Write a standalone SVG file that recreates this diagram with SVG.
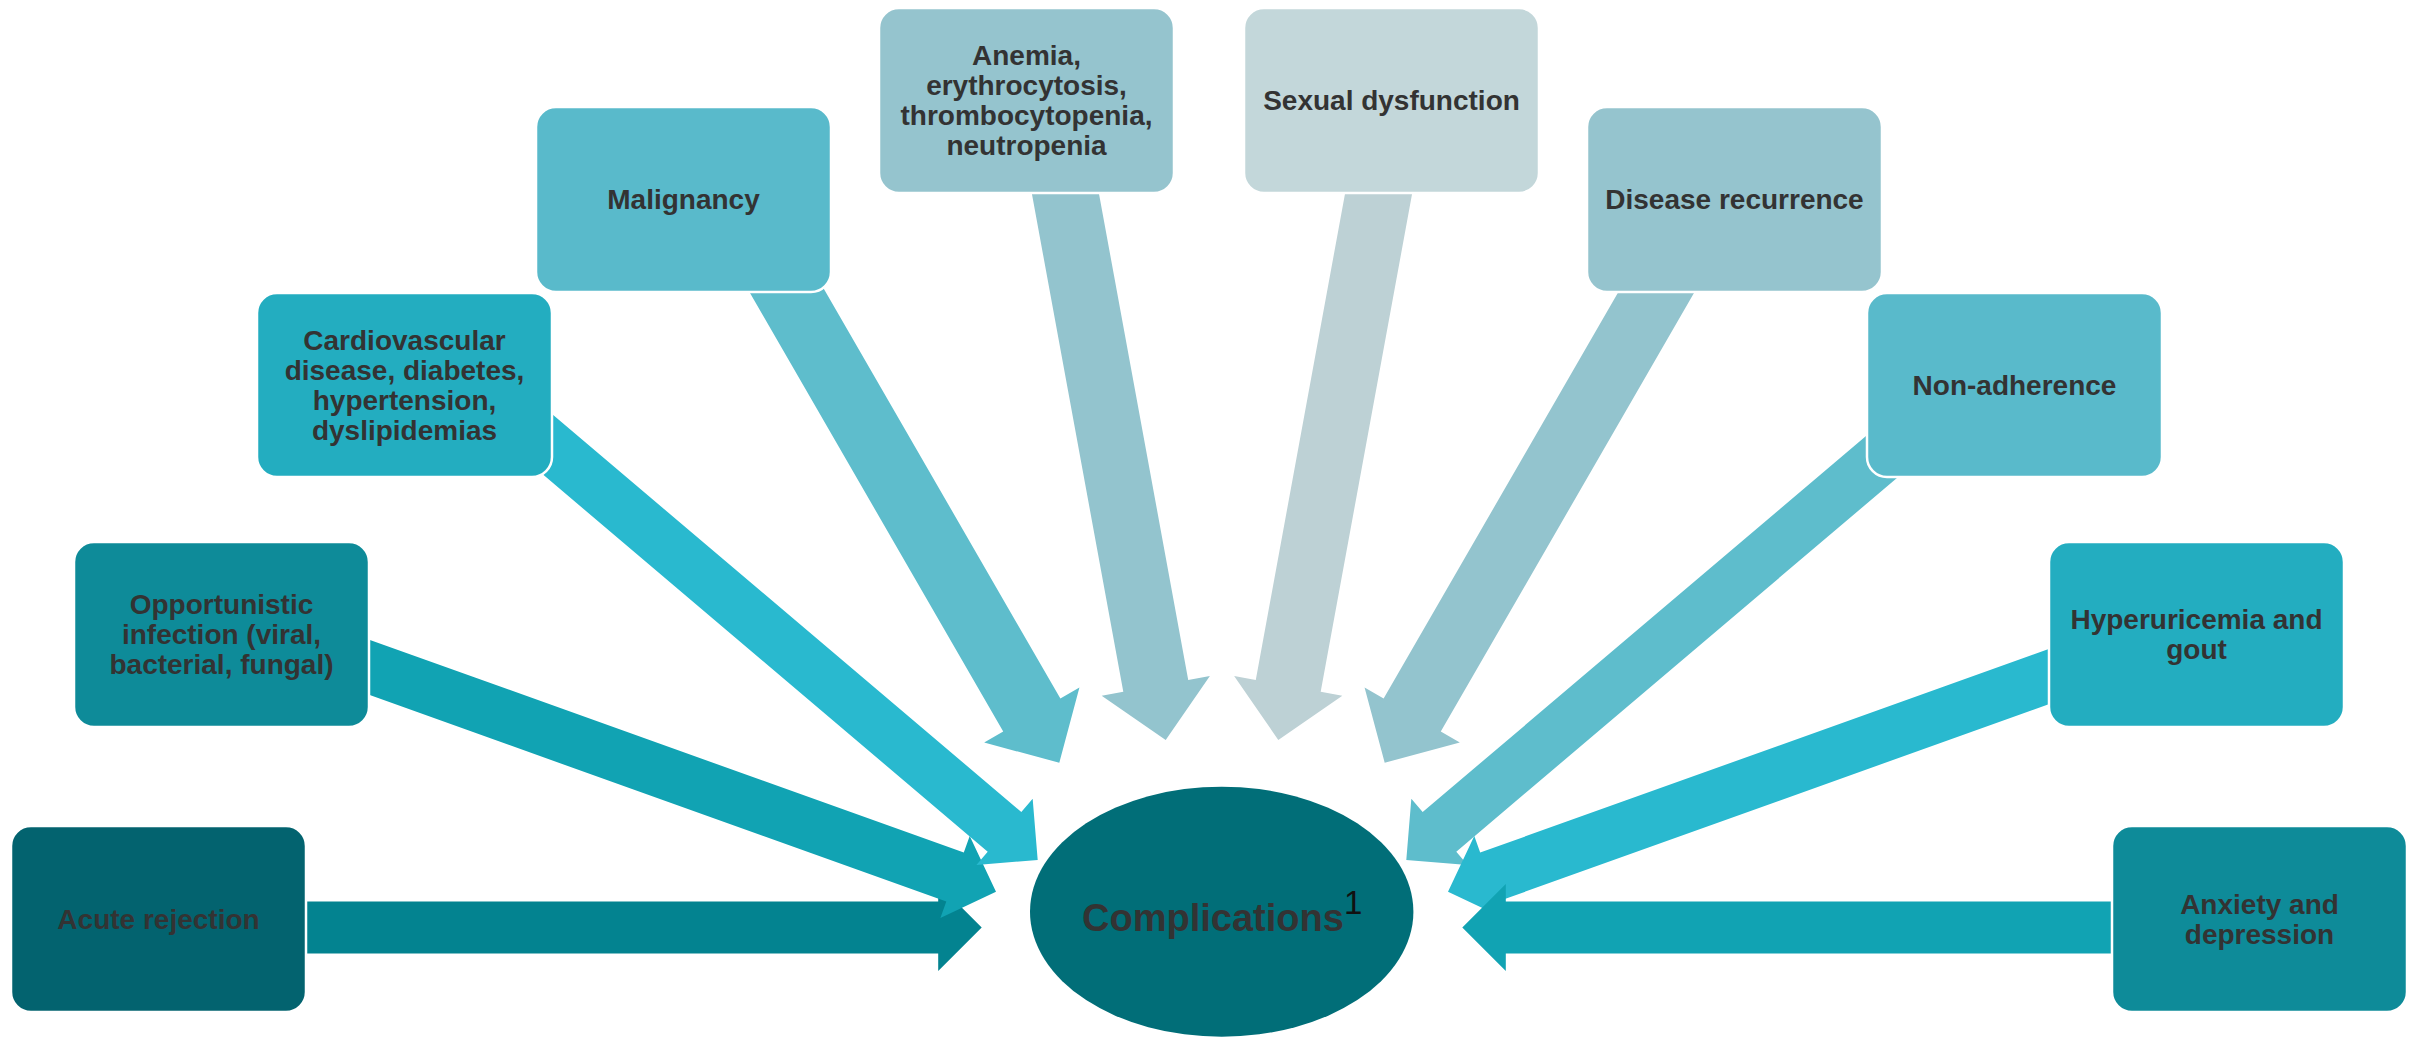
<svg xmlns="http://www.w3.org/2000/svg" width="2417" height="1038" viewBox="0 0 2417 1038">
  <style>
    .box { stroke: #ffffff; stroke-width: 2.5; }
    .lbl { font-family: "Liberation Sans", Arial, sans-serif; font-weight: bold; font-size: 28px; fill: #333333; text-anchor: middle; }
    .c1 { fill: #03636F; } .a1 { fill: #038390; }
    .c2 { fill: #0E8B99; } .a2 { fill: #11A3B3; }
    .c3 { fill: #23ADC0; } .a3 { fill: #29B9CF; }
    .c4 { fill: #59BACB; } .a4 { fill: #5EBDCC; }
    .c5 { fill: #95C4CE; } .a5 { fill: #93C4CE; }
    .c6 { fill: #C3D7DA; } .a6 { fill: #BDD1D5; }
  </style>
  <rect width="2417" height="1038" fill="#ffffff"/>
  <g id="connectors">
    <polygon class="a1" transform="translate(981.7,927.5) rotate(0)" points="-732,-26 -43.5,-26 -43.5,-43.5 0,0 -43.5,43.5 -43.5,26 -732,26"/>
    <polygon class="a2" transform="translate(996,891.7) rotate(19.7)" points="-707,-26 -43.5,-26 -43.5,-43.5 0,0 -43.5,43.5 -43.5,26 -707,26"/>
    <polygon class="a3" transform="translate(1037.7,860) rotate(40.3)" points="-679,-26 -43.5,-26 -43.5,-43.5 0,0 -43.5,43.5 -43.5,26 -679,26"/>
    <polygon class="a4" transform="translate(1059.3,762.7) rotate(60)" points="-590,-33 -55,-33 -55,-55 0,0 -55,55 -55,33 -590,33"/>
    <polygon class="a5" transform="translate(1165.7,740) rotate(79.6)" points="-600,-33 -55,-33 -55,-55 0,0 -55,55 -55,33 -600,33"/>
    <polygon class="a6" transform="translate(1278.3,740) rotate(100.4)" points="-600,-33 -55,-33 -55,-55 0,0 -55,55 -55,33 -600,33"/>
    <polygon class="a5" transform="translate(1384.7,762.7) rotate(120)" points="-592,-33 -55,-33 -55,-55 0,0 -55,55 -55,33 -592,33"/>
    <polygon class="a4" transform="translate(1406.3,860) rotate(139.7)" points="-687,-26 -43.5,-26 -43.5,-43.5 0,0 -43.5,43.5 -43.5,26 -687,26"/>
    <polygon class="a3" transform="translate(1448,891.7) rotate(160.3)" points="-682,-26 -43.5,-26 -43.5,-43.5 0,0 -43.5,43.5 -43.5,26 -682,26"/>
    <polygon class="a2" transform="translate(1462.3,927.5) rotate(180)" points="-698,-26 -43.5,-26 -43.5,-43.5 0,0 -43.5,43.5 -43.5,26 -698,26"/>
  </g>
  <g id="center">
    <ellipse cx="1221.7" cy="911.7" rx="191.7" ry="125" fill="#016E78"/>
    <text x="1082" y="931" font-family="Liberation Sans, Arial, sans-serif" font-weight="bold" font-size="38" fill="#333333">Complications</text>
    <text x="1344" y="914" font-family="Liberation Sans, Arial, sans-serif" font-size="33" fill="#111111">1</text>
  </g>
  <g id="acute-rejection">
    <rect class="box c1" x="11" y="826" width="295" height="186" rx="20"/>
    <text class="lbl" x="158.5" y="928.5">Acute rejection</text>
  </g>
  <g id="opportunistic-infection">
    <rect class="box c2" x="74" y="542" width="295" height="185" rx="20"/>
    <text class="lbl" x="221.5" y="614">Opportunistic</text>
    <text class="lbl" x="221.5" y="644">infection (viral,</text>
    <text class="lbl" x="221.5" y="674">bacterial, fungal)</text>
  </g>
  <g id="cardiovascular">
    <rect class="box c3" x="257" y="293" width="295" height="184" rx="20"/>
    <text class="lbl" x="404.5" y="349.5">Cardiovascular</text>
    <text class="lbl" x="404.5" y="379.5">disease, diabetes,</text>
    <text class="lbl" x="404.5" y="409.5">hypertension,</text>
    <text class="lbl" x="404.5" y="439.5">dyslipidemias</text>
  </g>
  <g id="malignancy">
    <rect class="box c4" x="536" y="107" width="295" height="185" rx="20"/>
    <text class="lbl" x="683.5" y="209">Malignancy</text>
  </g>
  <g id="anemia">
    <rect class="box c5" x="879" y="8" width="295" height="185" rx="20"/>
    <text class="lbl" x="1026.5" y="65">Anemia,</text>
    <text class="lbl" x="1026.5" y="95">erythrocytosis,</text>
    <text class="lbl" x="1026.5" y="125">thrombocytopenia,</text>
    <text class="lbl" x="1026.5" y="155">neutropenia</text>
  </g>
  <g id="sexual-dysfunction">
    <rect class="box c6" x="1244" y="8" width="295" height="185" rx="20"/>
    <text class="lbl" x="1391.5" y="110">Sexual dysfunction</text>
  </g>
  <g id="disease-recurrence">
    <rect class="box c5" x="1587" y="107" width="295" height="185" rx="20"/>
    <text class="lbl" x="1734.5" y="209">Disease recurrence</text>
  </g>
  <g id="non-adherence">
    <rect class="box c4" x="1867" y="293" width="295" height="184" rx="20"/>
    <text class="lbl" x="2014.5" y="394.5">Non-adherence</text>
  </g>
  <g id="hyperuricemia">
    <rect class="box c3" x="2049" y="542" width="295" height="185" rx="20"/>
    <text class="lbl" x="2196.5" y="629">Hyperuricemia and</text>
    <text class="lbl" x="2196.5" y="659">gout</text>
  </g>
  <g id="anxiety">
    <rect class="box c2" x="2112" y="826" width="295" height="186" rx="20"/>
    <text class="lbl" x="2259.5" y="913.5">Anxiety and</text>
    <text class="lbl" x="2259.5" y="943.5">depression</text>
  </g>
</svg>
